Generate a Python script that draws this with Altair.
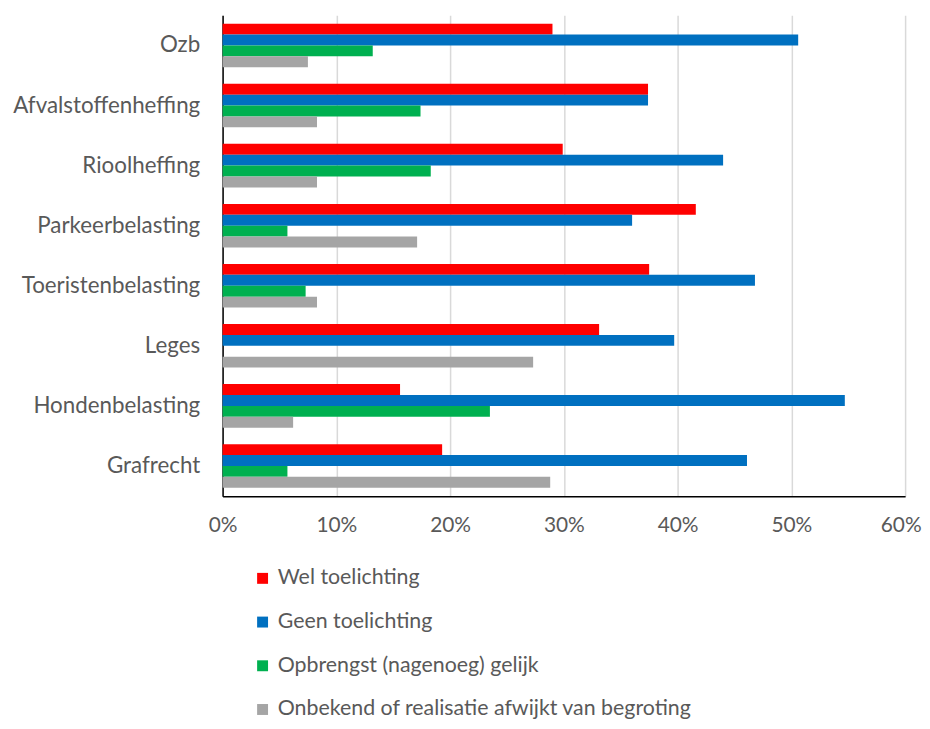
import altair as alt
import pandas as pd

categories = ["Ozb", "Afvalstoffenheffing", "Rioolheffing", "Parkeerbelasting",
              "Toeristenbelasting", "Leges", "Hondenbelasting", "Grafrecht"]
series = ["Wel toelichting", "Geen toelichting", "Opbrengst (nagenoeg) gelijk",
          "Onbekend of realisatie afwijkt van begroting"]
colors = ["#FF0000", "#0070C0", "#00B050", "#A5A5A5"]

wel = [29.0, 37.4, 29.9, 41.6, 37.5, 33.1, 15.6, 19.3]
geen = [50.6, 37.4, 44.0, 36.0, 46.8, 39.7, 54.7, 46.1]
gelijk = [13.2, 17.4, 18.3, 5.7, 7.3, 0.0, 23.5, 5.7]
onbekend = [7.5, 8.3, 8.3, 17.1, 8.3, 27.3, 6.2, 28.8]

values = [wel, geen, gelijk, onbekend]
rows = []
for s, vals in zip(series, values):
    for c, v in zip(categories, vals):
        rows.append({"categorie": c, "reeks": s, "waarde": v / 100})
df = pd.DataFrame(rows)

FONT = "Lato"
TXT = "#595959"

chart = alt.Chart(df).mark_bar().encode(
    y=alt.Y("categorie:N", sort=categories, title=None,
            scale=alt.Scale(paddingInner=0.275, paddingOuter=0.14),
            axis=alt.Axis(labelFont=FONT, labelFontSize=22.5, labelColor=TXT,
                          labelPadding=23, ticks=False, domainColor="#000000",
                          domainWidth=1.5, minExtent=206, maxExtent=206,
                          labelLimit=300)),
    yOffset=alt.YOffset("reeks:N", sort=series),
    x=alt.X("waarde:Q", title=None,
            scale=alt.Scale(domain=[0, 0.6], nice=False),
            axis=alt.Axis(format=".0%", values=[0, 0.1, 0.2, 0.3, 0.4, 0.5, 0.6],
                          labelFont=FONT, labelFontSize=21, labelColor=TXT,
                          labelPadding=19, labelFlush=False, labelAlign="center",
                          labelOffset={"condition": {"test": "datum.value >= 0.59", "value": -4.5},
                                       "value": 0},
                          ticks=False, domainColor="#000000",
                          domainWidth=1.5, grid=True, gridColor="#D9D9D9",
                          gridWidth=1.5)),
    color=alt.Color("reeks:N", sort=series,
                    scale=alt.Scale(domain=series, range=colors),
                    legend=alt.Legend(title=None, orient="none", legendX=29.5,
                                      legendY=556, direction="vertical",
                                      symbolType="square", symbolSize=121,
                                      symbolStrokeWidth=0, symbolOpacity=1,
                                      labelFont=FONT, labelFontSize=21.5,
                                      labelColor=TXT, rowPadding=21,
                                      labelOffset=4.5, labelLimit=600)),
).properties(width=687, height=484, padding={"left": 4, "top": 5, "right": 0, "bottom": 0}).configure_view(stroke=None)

chart.save("out.html", embed_options={"renderer": "svg", "actions": False})
